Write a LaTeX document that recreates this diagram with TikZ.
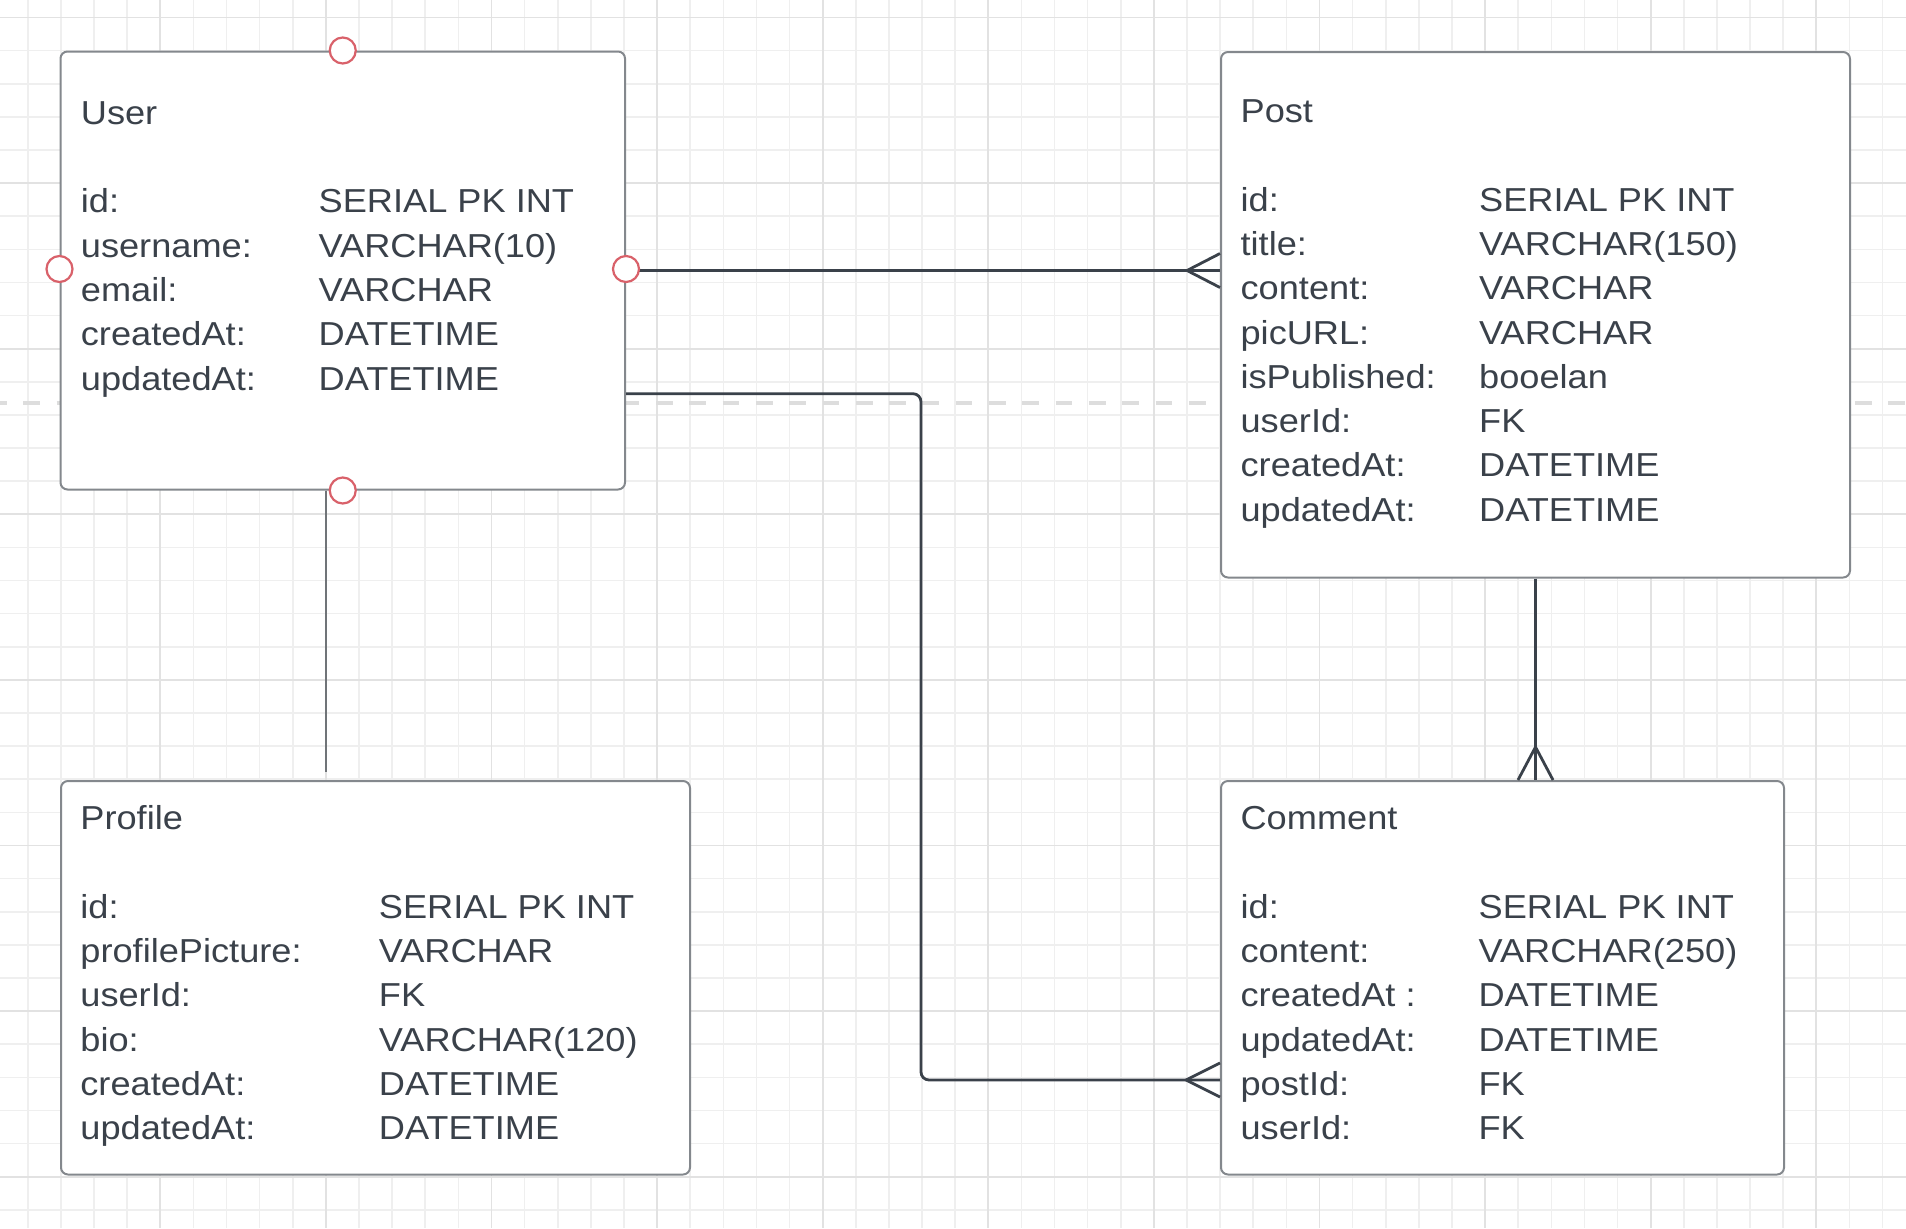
\documentclass[tikz,border=0pt]{standalone}
\usepackage{fontspec}
\newfontfamily\erfont{Liberation Sans}[FakeStretch=1.09]
\definecolor{ink}{HTML}{3A414A}
\definecolor{boxgray}{HTML}{84888D}
\definecolor{handlered}{HTML}{D9616A}
\definecolor{gridminor}{HTML}{EFEFEF}
\definecolor{gridmajor}{HTML}{E2E2E2}
\definecolor{dashgray}{HTML}{DDDDDD}
\tikzset{
  entity/.style={draw=boxgray,line width=2bp,rounded corners=7bp,fill=white,anchor=north west,inner sep=0},
  fields/.style={anchor=base west,inner sep=0,text=ink,font=\erfont\fontsize{33.2bp}{44.3bp}\selectfont},
  link/.style={draw=ink,line width=2.8bp},
  boxline/.style={draw=boxgray!85!black,line width=2.7bp},
  handle/.style={circle,draw=handlered,line width=2.2bp,fill=white,minimum size=26bp,inner sep=0},
}
\begin{document}
\begin{tikzpicture}[x=1bp,y=-1bp,line join=round]
%%
\useasboundingbox (0,0) rectangle (1906,1228);
\fill[white] (0,0) rectangle (1906,1228);
% grid
\foreach \i in {0,...,58} \draw[gridminor,line width=1.6bp] ({-5.3+33.12*\i},0) -- ++(0,1228);
\foreach \j in {0,...,36} \draw[gridminor,line width=1.6bp] (0,{17.5+33.12*\j}) -- ++(1906,0);
\foreach \i in {0,5,...,55} \draw[gridmajor,line width=1.8bp] ({-5.3+33.12*\i},0) -- ++(0,1228);
\foreach \j in {0,5,...,35} \draw[gridmajor,line width=1.8bp] (0,{17.5+33.12*\j}) -- ++(1906,0);
\draw[dashgray,line width=4bp,dash pattern=on 16.7bp off 16.6bp,dash phase=10bp] (0,403) -- (1906,403);
%
\node (user) at (59.5,50.5) [entity,minimum width=564.5bp,minimum height=438bp] {};
\node (post) at (1220,51) [entity,minimum width=629bp,minimum height=525.5bp] {};
\node (profile) at (60,780) [entity,minimum width=629bp,minimum height=393.5bp] {};
\node (comment) at (1220,780) [entity,minimum width=563bp,minimum height=393.5bp] {};
%
\coordinate (postin) at (post.west |- user.east);
\coordinate (bend) at (921,1080);
\coordinate (cmtin) at (comment.west |- bend);
\coordinate (cmttop) at (post.south |- comment.north);
\draw [link] (user.east) -- (postin);
\draw [link] ([xshift=-33bp]postin) -- ([yshift=17bp]postin) ([xshift=-33bp]postin) -- ([yshift=-17bp]postin);
\draw [link,rounded corners=8bp] ([yshift=-123.2bp]user.east) -| (bend) -- (cmtin);
\draw [link] ([xshift=-34bp]cmtin) -- ([yshift=17bp]cmtin) ([xshift=-34bp]cmtin) -- ([yshift=-17bp]cmtin);
\draw [link] (post.south) -- (cmttop);
\draw [link] ([yshift=33bp]cmttop) -- ([xshift=-17.5bp]cmttop) ([yshift=33bp]cmttop) -- ([xshift=17.5bp]cmttop);
\draw [boxline] ([xshift=-16.75bp]user.south) -- ++(0,281.5);
%
\node (userf) at (80.7,124.3) [fields] {\begin{tabular}[t]{@{}p{237.8bp}@{}l@{}}
User & \\ & \\
id: & SERIAL PK INT\\
username: & VARCHAR(10)\\
email: & VARCHAR\\
createdAt: & DATETIME\\
updatedAt: & DATETIME
\end{tabular}};
\node (postf) at (1240.4,122.5) [fields] {\begin{tabular}[t]{@{}p{238.6bp}@{}l@{}}
Post & \\ & \\
id: & SERIAL PK INT\\
title: & VARCHAR(150)\\
content: & VARCHAR\\
picURL: & VARCHAR\\
isPublished: & booelan\\
userId: & FK\\
createdAt: & DATETIME\\
updatedAt: & DATETIME
\end{tabular}};
\node (profilef) at (80.2,829.5) [fields] {\begin{tabular}[t]{@{}p{298.5bp}@{}l@{}}
Profile & \\ & \\
id: & SERIAL PK INT\\
profilePicture: & VARCHAR\\
userId: & FK\\
bio: & VARCHAR(120)\\
createdAt: & DATETIME\\
updatedAt: & DATETIME
\end{tabular}};
\node (commentf) at (1240.4,829.5) [fields] {\begin{tabular}[t]{@{}p{238bp}@{}l@{}}
Comment & \\ & \\
id: & SERIAL PK INT\\
content: & VARCHAR(250)\\
createdAt : & DATETIME\\
updatedAt: & DATETIME\\
postId: & FK\\
userId: & FK
\end{tabular}};
%
\node (hnorth) at (user.north) [handle] {};
\node (hwest) at ([yshift=1.5bp]user.west) [handle] {};
\node (heast) at ([yshift=1.5bp]user.east) [handle] {};
\node (hsouth) at (user.south) [handle] {};
%
\end{tikzpicture}
\end{document}
